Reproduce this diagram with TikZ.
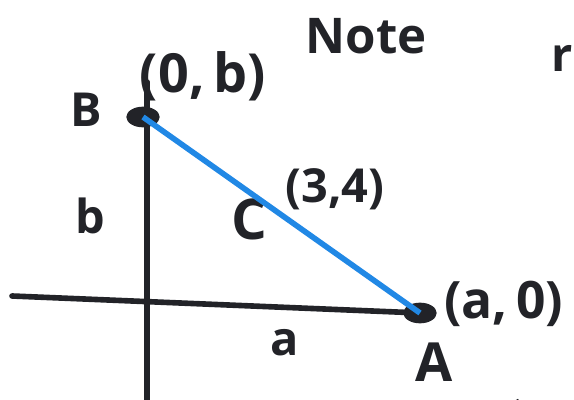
\documentclass[tikz,border=0pt]{standalone}
\usepackage{fontspec}
\setmainfont{Open Sans}
\usetikzlibrary{positioning}
\usetikzlibrary{calc}
\usetikzlibrary{shapes.geometric}

\definecolor{ink}{RGB}{34,35,40}
\definecolor{segblue}{RGB}{33,136,229}

\begin{document}
\begin{tikzpicture}[x=0.03cm, y=-0.03cm, every node/.style={font=\fontsize{40}{42}\selectfont\bfseries, text=ink, inner sep=0pt},
    dot/.style={ellipse, fill=ink, minimum width=1cm, minimum height=0.62cm},
    axis/.style={draw=ink, line width=4.8pt, line cap=round}]
            \clip (0,0) rectangle (574,400);
            % points
            \node[dot] (B) at (143,117) {};
            \node[dot] (A) at (420,313) {};
            \coordinate (xl) at (12,296);
            \coordinate (yt) at (147,82);
            \coordinate (yb) at (147,402);
            % labels
            \node (lB) at (86,110) {B};
            \node[font=\fontsize{46}{48}\selectfont\bfseries] (lB2) at (203,76) {(0,\,b)};
            \node[font=\fontsize{42}{44}\selectfont\bfseries] (note) at (366,36) {Note};
            \node[anchor=east] (r) at (573,58) {r};
            \node[font=\fontsize{40}{42}\selectfont\bfseries] (lC2) at (335,189) {(3,4)};
            \node[font=\fontsize{48}{50}\selectfont\bfseries] (lC) at (249,219) {C};
            \node (lb) at (90,216) {b};
            \node[font=\fontsize{44}{46}\selectfont\bfseries, anchor=west] (lA2) at (444,304) {(a,\,0)};
            \node (la) at (285,343) {a};
            \node[font=\fontsize{46}{48}\selectfont\bfseries] (lA) at (434,362) {A};
            % axes and segment
            \draw[axis] (yt) -- (yb);
            \draw[axis] (xl) -- (A.center);
            \draw[segblue, line width=4.8pt] (B.center) -- (A.center);
            \draw[ink, line width=4pt] (516,400) arc[start angle=160, end angle=40, radius=10];
        \end{tikzpicture}
\end{document}
